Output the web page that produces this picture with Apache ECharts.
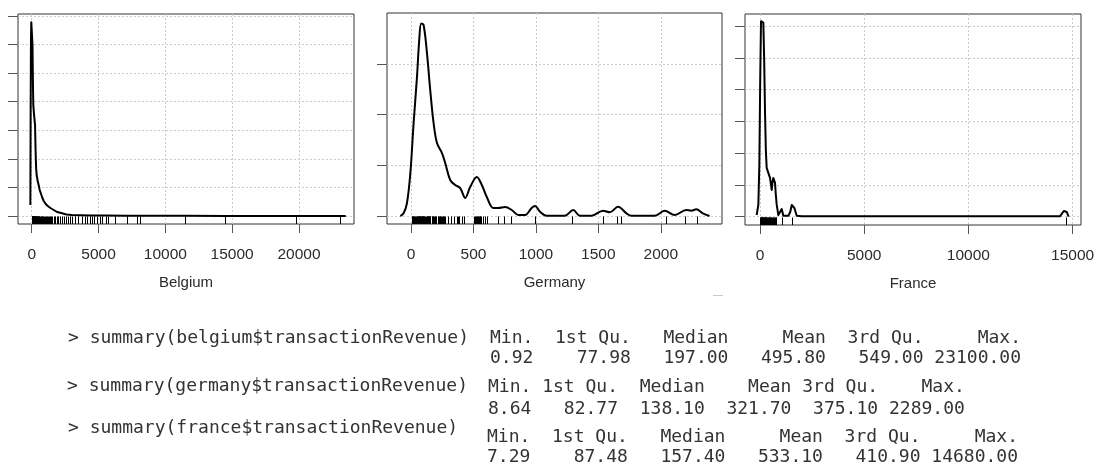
<!DOCTYPE html>
<html>
<head>
<meta charset="utf-8">
<script src="https://cdn.jsdelivr.net/npm/echarts@6/dist/echarts.min.js"></script>
<style>
html,body{margin:0;padding:0;background:#fff;}
#main{width:1099px;height:468px;}
</style>
</head>
<body>
<div id="main"></div>
<script>
// ---------- data ----------
const belgiumDensX = [-100,-80,-55,-30,0,30,60,90,120,160,200,250,290,330,380,450,520,600,700,800,900,1050,1200,1400,1650,1900,2200,2600,3000,3600,4500,5500,7000,8000,11500,14500,20000,23500];
const belgiumDensY = [0.000192,0.001766,0.003077,0.003392,0.003427,0.003357,0.00299,0.002378,0.00194,0.001818,0.001713,0.001591,0.001154,0.000839,0.000699,0.000612,0.000542,0.000454,0.000385,0.000315,0.000262,0.00021,0.000175,0.00014,0.000105,0.00007,0.0000524,0.0000262,0.0000175,0.0000122,0.0000087,0.000007,0.0000035,0.0000035,0.0000026,0.0000017,0.0000009,0];
const belgiumRug = [0.92,5,9,12,15,18,20,22,25,28,30,33,35,38,40,42,45,48,50,52,55,58,60,63,65,68,70,72,75,78,80,85,90,95,100,105,110,118,125,130,140,150,160,170,180,190,197,210,220,235,250,265,280,300,320,340,360,380,400,430,460,495,520,549,580,620,660,700,750,800,860,920,990,1050,1120,1200,1290,1380,1450,1550,1650,1750,1860,1980,2100,2250,2400,2550,2713,2850,3012,3236,3460,3759,3983,4133,4357,4507,4656,4880,5105,5254,5553,5703,6226,7123,7870,8094,11457,14499,19806,23100];

const germanyDensX = [-85,-59,-32,-5,21,48,66,82,101,128,154,181,208,248,274,314,354,394,434,474,527,567,607,660,700,753,807,860,913,966,993,1033,1086,1232,1299,1352,1446,1538,1592,1658,1725,1765,1951,2031,2111,2204,2244,2284,2337,2390];
const germanyDensY = [0,0.0000266,0.000128,0.000424,0.000917,0.001371,0.001736,0.0019,0.001884,0.001607,0.001243,0.000917,0.00072,0.000621,0.000523,0.000355,0.000306,0.000276,0.000178,0.000286,0.000385,0.000306,0.000187,0.0000789,0.0000789,0.0000888,0.0000592,0.00001,0.00001,0.0000789,0.0000986,0.0000424,0.000003,0.000003,0.0000592,0.000003,0.000003,0.0000523,0.0000365,0.0000917,0.0000266,0.000002,0.000002,0.0000523,0.00001,0.0000592,0.0000523,0.0000661,0.0000266,0];
const germanyRug = [8.64,11,15,18,22,26,30,41,45,48,52,55,58,61,64,67,70,73,76,79,82.77,85,88,91,94,97,100,103,106,109,121,125,128,132,135,138.1,141,145,148,152,156,168,172,176,180,185,190,195,200,215,220,225,230,235,242,248,254,260,267,274,300,322,348,367,375.1,388,407,425,508,515,520,525,530,535,540,545,549,555,560,575,590,607,700,748,798,993,1291,1538,1650,1685,2039,2196,2289];

const franceDensX = [-160,-80,-32,10,48,100,160,200,240,280,320,400,480,562,600,640,680,720,760,802,880,960,1042,1120,1360,1450,1522,1590,1648,1762,2000,14400,14490,14580,14650,14720,14808];
const franceDensY = [0.0000268,0.000185,0.000815,0.002156,0.003076,0.003071,0.003055,0.002472,0.001656,0.001052,0.000768,0.000689,0.00061,0.000421,0.000547,0.00061,0.000579,0.000532,0.000342,0.000185,0.0000268,0.0000268,0.000121,0.0000158,0.0000158,0.0000741,0.000185,0.000185,0.000137,0.0000158,0.0000079,0.0000079,0.0000189,0.0000899,0.000117,0.0000741,0];
const franceRug = [7.29,20,35,50,65,80,87.48,95,110,125,140,157.4,170,185,200,220,240,260,280,300,320,345,370,390,410.9,430,460,490,520,550,580,610,640,670,700,730,760,790,1073,1553,14680];

const belgiumXTicks = [0,5000,10000,15000,20000];
const germanyXTicks = [0,500,1000,1500,2000];
const franceXTicks = [0,5000,10000,15000];
const belgiumYTicks = [0,0.0005,0.001,0.0015,0.002,0.0025,0.003,0.0035];
const germanyYTicks = [0,0.0005,0.001,0.0015];
const franceYTicks = [0,0.0005,0.001,0.0015,0.002,0.0025,0.003];

const panelNames = ['Belgium','Germany','France'];

const summaryPrompts = ['> summary(belgium$transactionRevenue)','> summary(germany$transactionRevenue)','> summary(france$transactionRevenue)'];
const summaryHeaders = ['Min.  1st Qu.   Median     Mean  3rd Qu.     Max.','Min. 1st Qu.  Median    Mean 3rd Qu.    Max.','Min.  1st Qu.   Median     Mean  3rd Qu.     Max.'];
const summaryValues = ['0.92    77.98   197.00   495.80   549.00 23100.00','8.64   82.77  138.10  321.70  375.10 2289.00','7.29    87.48   157.40   533.10   410.90 14680.00'];

// ---------- layout ----------
const grids = [
  {left:18, top:14, width:336, height:210},
  {left:387, top:13, width:335, height:211},
  {left:745, top:14, width:336, height:211}
];
const xRanges = [[-1025,24116],[-192,2490],[-720,15403]];
const yRanges = [[-0.00014,0.003535],[-0.0000789,0.002003],[-0.0001306,0.003189]];
const xTicks = [belgiumXTicks, germanyXTicks, franceXTicks];
const yTicks = [belgiumYTicks, germanyYTicks, franceYTicks];
const densX = [belgiumDensX, germanyDensX, franceDensX];
const densY = [belgiumDensY, germanyDensY, franceDensY];
const rugs = [belgiumRug, germanyRug, franceRug];
const smooths = [false, 0.35, false];

const labelFont = {fontFamily:'Liberation Sans, Arial, sans-serif', fontSize:15.5, color:'#2b2b2b'};
const gridLine = {show:true, lineStyle:{color:'#cccccc', type:[2,2], width:1}};

function rugItem(params, api){
  const p = api.coord([api.value(0), 0]);
  const cs = params.coordSys;
  const yb = cs.y + cs.height;
  const x = Math.round(p[0]) + 0.5;
  return {type:'line', shape:{x1:x, y1:yb, x2:x, y2:yb-7.5}, style:{stroke:'#000', lineWidth:1}};
}

const option = {
  animation:false,
  backgroundColor:'#fff',
  grid: grids.map(g => Object.assign({show:true, borderColor:'#333', borderWidth:1, backgroundColor:'transparent'}, g)),
  xAxis: grids.map((g,i) => ({
    type:'value', gridIndex:i, min:xRanges[i][0], max:xRanges[i][1],
    name:panelNames[i], nameLocation:'middle', nameGap:51, nameTextStyle:Object.assign({}, labelFont, {fontSize:15}),
    axisLine:{show:false, onZero:false},
    axisTick:{show:true, inside:false, length:9, lineStyle:{color:'#555'}, customValues:xTicks[i]},
    axisLabel:Object.assign({customValues:xTicks[i], margin:23, formatter: v => String(v)}, labelFont),
    splitLine:gridLine
  })),
  yAxis: grids.map((g,i) => ({
    type:'value', gridIndex:i, min:yRanges[i][0], max:yRanges[i][1],
    axisLine:{show:false, onZero:false},
    axisTick:{show:true, inside:false, length:10, lineStyle:{color:'#555'}, customValues:yTicks[i]},
    axisLabel:{show:false, customValues:yTicks[i]},
    splitLine:gridLine
  })),
  series: [].concat(
    grids.map((g,i) => ({
      type:'line', xAxisIndex:i, yAxisIndex:i, symbol:'none', smooth:smooths[i],
      data: densX[i].map((x,k) => [x, densY[i][k]]),
      lineStyle:{color:'#000', width:2, join:'round'}, z:3
    })),
    grids.map((g,i) => ({
      type:'custom', xAxisIndex:i, yAxisIndex:i, renderItem:rugItem,
      data: rugs[i].map(v => [v, 0]), encode:{x:0, y:1}, z:4
    }))
  ),
  graphic: []
};

const monoFont = '18px "DejaVu Sans Mono", monospace';
const promptPos = [[68,340],[67,388],[68,430]];
const headerPos = [[490,340],[488,389],[487,439]];
const valuePos = [[490,360],[488,411],[487,459]];
for (let i=0;i<3;i++){
  option.graphic.push({type:'text', left:promptPos[i][0], top:promptPos[i][1]-11, style:{text:summaryPrompts[i], font:monoFont, fill:'#333'}});
  option.graphic.push({type:'text', left:headerPos[i][0], top:headerPos[i][1]-11, style:{text:summaryHeaders[i], font:monoFont, fill:'#333'}});
  option.graphic.push({type:'text', left:valuePos[i][0], top:valuePos[i][1]-11, style:{text:summaryValues[i], font:monoFont, fill:'#333'}});
}
option.graphic.push({type:'line', shape:{x1:713, y1:295.5, x2:723, y2:295.5}, style:{stroke:'#c8c8c8', lineWidth:1}});

const chart = echarts.init(document.getElementById('main'), null, {renderer:'canvas'});
chart.setOption(option);
</script>
</body>
</html>
